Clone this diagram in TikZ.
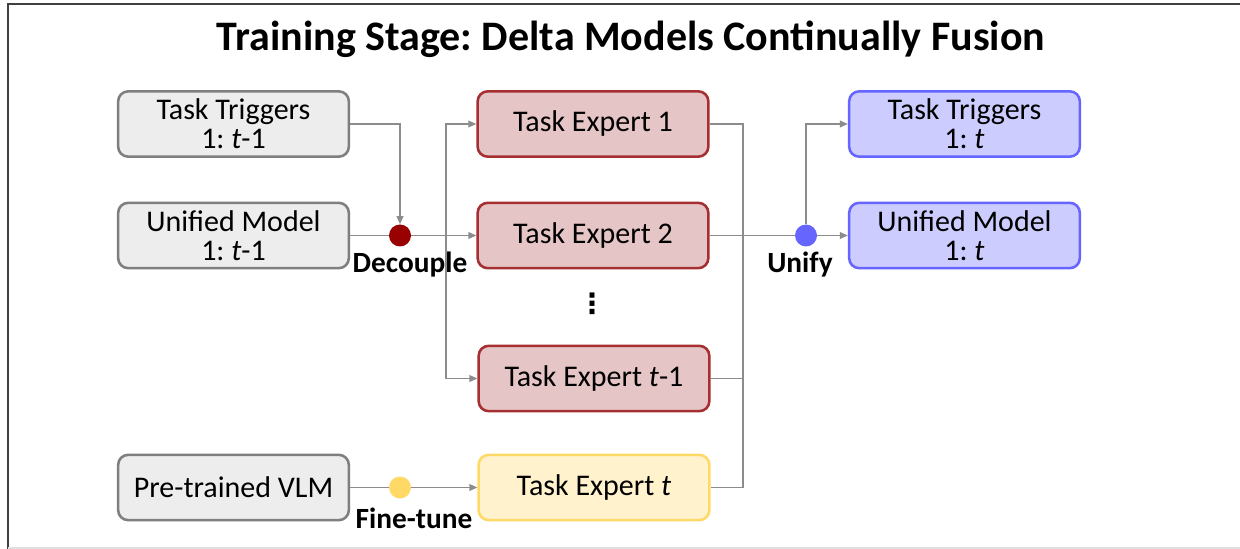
\documentclass[tikz,border=0pt]{standalone}
\usepackage{fontspec}
\setmainfont{Carlito}
\newfontfamily\symfont{DejaVu Sans}
\usetikzlibrary{arrows.meta}
\frenchspacing

\definecolor{greyfill}{HTML}{EDEDED}
\definecolor{greyline}{HTML}{7F7F7F}
\definecolor{redfill}{HTML}{E6C5C6}
\definecolor{redline}{HTML}{A52F31}
\definecolor{yelfill}{HTML}{FFF2CC}
\definecolor{yelline}{HTML}{FFD966}
\definecolor{bluefill}{HTML}{CCCCFF}
\definecolor{blueline}{HTML}{6666FF}
\definecolor{wire}{HTML}{8C8C8C}
\definecolor{decdot}{HTML}{990000}

\tikzset{
  box/.style={rounded corners=7.5pt, line width=1.9pt, minimum width=173pt,
    minimum height=49pt, inner sep=0pt, align=center,
    font=\fontsize{22.5}{22}\selectfont},
  greybox/.style={box, draw=greyline, fill=greyfill},
  redbox/.style={box, draw=redline, fill=redfill},
  yelbox/.style={box, draw=yelline, fill=yelfill},
  bluebox/.style={box, draw=blueline, fill=bluefill},
  joint/.style={circle, minimum size=16.5pt, inner sep=0pt},
  steplabel/.style={font=\fontsize{22}{22}\selectfont\bfseries, inner sep=0pt},
  wireline/.style={draw=wire, line width=1.1pt},
  wirearrow/.style={wireline, -{Triangle[length=6pt,width=5pt]}},
}

\begin{document}
\begin{tikzpicture}[x=0.75pt, y=-0.75pt]
  % page frame
  \useasboundingbox (0,0) rectangle (1240,549);
  \fill[white] (0,0) rectangle (1240,549);
  \draw[draw=black!75, line width=1.5pt] (8,549) -- (8,4) -- (1240,4);
  \draw[draw=black!12, line width=1.5pt] (8,547.5) -- (1240,547.5);

  % title
  \node[font=\fontsize{31.5}{31.5}\selectfont\bfseries] (title) at (631,39)
    {Training Stage: Delta Models Continually Fusion};

  % left column
  \node[greybox] (tt1) at (233.5,124) {Task Triggers\\1: \textit{t}-1};
  \node[greybox] (um1) at (233.5,235.5) {Unified Model\\1: \textit{t}-1};
  \node[greybox] (vlm) at (233.5,487.5) {Pre-trained VLM};

  % task experts
  \node[font=\symfont\bfseries\fontsize{21}{21}\selectfont, inner sep=0pt] (vdots) at (592,303.5) {⋮};
  \node[redbox] (te1) at (593,124) {Task Expert 1};
  \node[redbox] (te2) at (593,235.5) {Task Expert 2};
  \node[redbox] (tet1) at (594,378.5) {Task Expert \textit{t}-1};
  \node[yelbox] (tet) at (594,487.5) {Task Expert \textit{t}};

  % right column
  \node[bluebox] (tt2) at (964.5,124) {Task Triggers\\1: \textit{t}};
  \node[bluebox] (um2) at (964.5,235.5) {Unified Model\\1: \textit{t}};

  % operation joints
  \node[joint, fill=decdot] (dec) at (400,235.5) {};
  \node[steplabel] (declbl) at (410,265) {Decouple};
  \node[joint, fill=blueline] (uni) at (806,235.5) {};
  \node[steplabel] (unilbl) at (800,265) {Unify};
  \node[joint, fill=yelline] (ft) at (400,487.5) {};
  \node[steplabel] (ftlbl) at (414,518) {Fine-tune};

  % branch and merge rails
  \coordinate (split) at (446,235.5);
  \coordinate (mx) at (743,0);

  % decouple
  \draw[wirearrow] (tt1.east) -| (dec.north);
  \draw[wireline] (um1.east) -- (dec.west);
  \draw[wirearrow] (dec.east) -- (te2.west);
  \draw[wirearrow] (split) |- (te1.west);
  \draw[wirearrow] (split) |- (tet1.west);

  % fine-tune
  \draw[wireline] (vlm.east) -- (ft.west);
  \draw[wirearrow] (ft.east) -- (tet.west);

  % unify
  \draw[wireline] (te1.east) -| (mx |- tet.east) -- (tet.east);
  \draw[wireline] (tet1.east) -- (mx |- tet1.east);
  \draw[wireline] (te2.east) -- (uni.west);
  \draw[wirearrow] (uni.east) -- (um2.west);
  \draw[wirearrow] (uni.north) |- (tt2.west);
\end{tikzpicture}
\end{document}
